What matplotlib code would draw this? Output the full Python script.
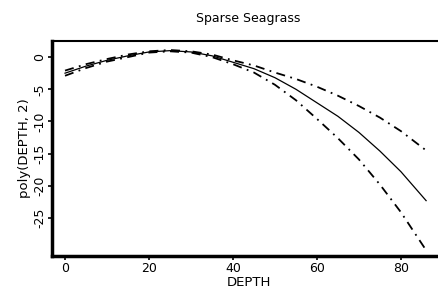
import matplotlib
matplotlib.use("Agg")
import matplotlib.pyplot as plt
import numpy as np

# Data
depth = [0, 5, 10, 15, 20, 25, 30, 35, 40, 45, 50, 55, 60, 65, 70, 75, 80, 86]
fit   = [-2.5, -1.4, -0.5, 0.2, 0.8, 1.0, 0.8, 0.2, -0.8, -1.8, -3.2, -5.0, -7.1, -9.2, -11.7, -14.6, -17.8, -22.3]
upper = [-2.1, -1.1, -0.3, 0.4, 0.9, 1.1, 0.9, 0.4, -0.5, -1.3, -2.4, -3.4, -4.6, -6.0, -7.6, -9.4, -11.5, -14.5]
lower = [-2.9, -1.7, -0.7, 0.0, 0.7, 0.9, 0.7, 0.0, -1.1, -2.4, -4.3, -6.7, -9.6, -12.6, -15.9, -19.8, -24.1, -30.0]

title = "Sparse Seagrass"
xlabel = "DEPTH"
ylabel = "poly(DEPTH, 2)"
xticks = [0, 20, 40, 60, 80]
yticks = [0, -5, -10, -15, -20, -25]

W, H = 438, 294
fig = plt.figure(figsize=(W / 100, H / 100), dpi=100)
left_px, right_px, top_px, bot_px = 52, 445, 41, 256
ax = fig.add_axes([left_px / W, 1 - bot_px / H, (right_px - left_px) / W, (bot_px - top_px) / H])

ax.plot(depth, fit, color="black", lw=0.9, ls="-")
ax.plot(depth, upper, color="black", lw=1.3, ls=(0, (5, 3, 1, 3)))
ax.plot(depth, lower, color="black", lw=1.3, ls=(0, (5, 3, 1, 3)))

ax.set_xlim(-3.1, 90.5)
ax.set_ylim(-30.9, 2.5)
ax.set_xticks(xticks)
ax.set_yticks(yticks)
ax.set_xticklabels([str(t) for t in xticks], fontsize=9)
ax.set_yticklabels([str(t) for t in yticks], fontsize=9, rotation=90, va="center")
ax.tick_params(axis="both", direction="out", length=3, width=1.2, pad=1, color="black")

for s in ["left", "bottom"]:
    ax.spines[s].set_linewidth(2.5)
ax.spines["top"].set_linewidth(1.5)
ax.spines["right"].set_visible(False)

ax.set_title(title, fontsize=9, pad=14)
ax.set_xlabel(xlabel, fontsize=9.5, labelpad=1)
ax.set_ylabel(ylabel, fontsize=9.5, labelpad=2)

fig.savefig("out.png", dpi=100)
